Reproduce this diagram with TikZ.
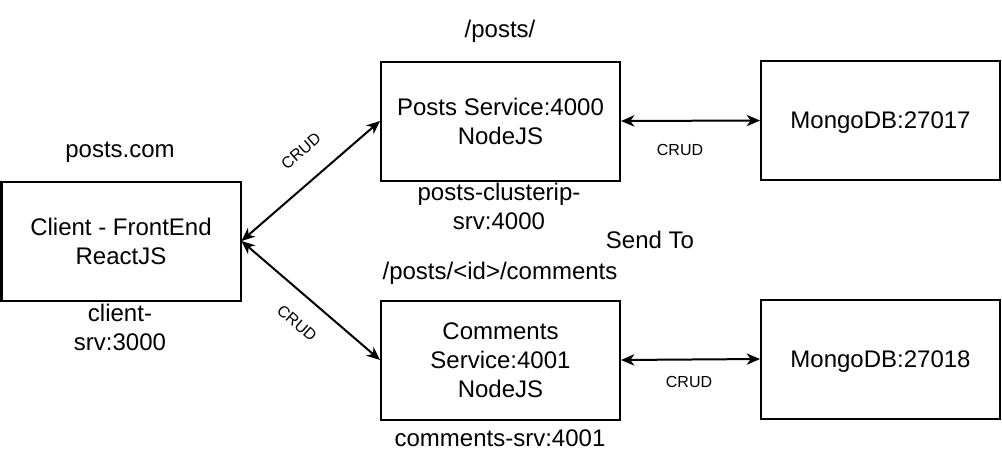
\documentclass[tikz,border=0pt]{standalone}
\usepackage{fontspec}
\setmainfont{Liberation Sans}
\usetikzlibrary{arrows.meta,calc}
\begin{document}
\begin{tikzpicture}[x=0.75pt,y=-0.75pt,
  box/.style={draw,line width=1.5pt,minimum width=179.25pt,minimum height=89.25pt,inner sep=0pt,align=center,font=\fontsize{18}{21.75}\selectfont},
  lbl/.style={inner sep=0pt,align=center,font=\fontsize{18}{21.75}\selectfont},
  crud/.style={inner sep=0pt,font=\fontsize{12}{14}\selectfont},
  link/.style={line width=1.5pt,{Stealth[length=10pt,width=8.5pt,inset=3pt]}-{Stealth[length=10pt,width=8.5pt,inset=3pt]}}]
\useasboundingbox (0,0) rectangle (1002,472);
% boxes
\node[box] (client) at (121,241) {Client - FrontEnd\\ReactJS};
\node[box] (posts) at (500.5,121) {Posts Service:4000\\NodeJS};
\node[box] (comments) at (500.5,360) {Comments\\Service:4001\\NodeJS};
\node[box,text depth=0pt] (m1) at (880.5,120.5) {MongoDB:27017};
\node[box,text depth=0pt] (m2) at (880.5,359) {MongoDB:27018};
% connectors
\draw[link] (client.east) -- (posts.west);
\draw[link] (client.east) -- (comments.west);
\draw[link] (posts.east) -- (m1.west);
\draw[link] (comments.east) -- (m2.west);
% connector labels
\node[crud,rotate=41] (crudA) at (301,151) {CRUD};
\node[crud,rotate=-41] (crudB) at (297,323) {CRUD};
\node[crud,anchor=base] (crudC) at (680,155) {CRUD};
\node[crud,anchor=base] (crudD) at (689,387.5) {CRUD};
% free labels
\node[lbl,anchor=base] (l1) at (500,37.5) {/posts/};
\node[lbl,anchor=base] (l2) at (120,157) {posts.com};
\node[lbl] (l3) at (499,206.3) {posts-clusterip-\\srv:4000};
\node[lbl,anchor=base] (l4) at (650,248) {Send To};
\node[lbl,anchor=base] (l5) at (500,279) {/posts/<id>/comments};
\node[lbl] (l6) at (120,327) {client-\\srv:3000};
\node[lbl,anchor=base] (l7) at (500,446.5) {comments-srv:4001};
\end{tikzpicture}
\end{document}
